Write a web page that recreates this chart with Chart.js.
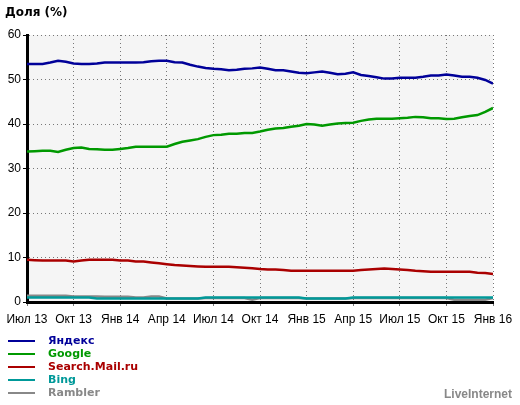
<!DOCTYPE html>
<html>
<head>
<meta charset="utf-8">
<script src="https://cdn.jsdelivr.net/npm/chart.js@4/dist/chart.umd.min.js"></script>
<style>
  html, body { margin: 0; padding: 0; background: #fff; }
  #wrap { width: 520px; height: 405px; }
</style>
</head>
<body>
<div id="wrap"><canvas id="grafico" width="520" height="405"></canvas></div>
<script>
// half-month steps from Jul 2013 to Jan 2016
const tickLabels = ['Июл 13', 'Окт 13', 'Янв 14', 'Апр 14', 'Июл 14', 'Окт 14',
                    'Янв 15', 'Апр 15', 'Июл 15', 'Окт 15', 'Янв 16'];

const seriesNames = ['Яндекс', 'Google', 'Search.Mail.ru', 'Bing', 'Rambler'];

const yandex = [53.5, 53.5, 53.5, 53.8, 54.2, 54.0, 53.6, 53.5, 53.5, 53.6,
                53.8, 53.8, 53.8, 53.8, 53.8, 53.9, 54.1, 54.2, 54.2, 53.9,
                53.8, 53.3, 52.9, 52.6, 52.4, 52.3, 52.1, 52.2, 52.4, 52.5,
                52.7, 52.4, 52.1, 52.1, 51.8, 51.5, 51.4, 51.6, 51.8, 51.5,
                51.2, 51.3, 51.6, 51.0, 50.8, 50.5, 50.2, 50.2, 50.4, 50.4,
                50.4, 50.6, 50.9, 50.9, 51.1, 50.9, 50.6, 50.6, 50.4, 49.9, 49.1];

const google = [33.8, 33.9, 34.0, 34.0, 33.7, 34.2, 34.6, 34.7, 34.4, 34.3,
                34.2, 34.2, 34.4, 34.6, 34.9, 34.9, 34.9, 34.9, 34.9, 35.5,
                36.0, 36.3, 36.6, 37.1, 37.5, 37.6, 37.8, 37.8, 38.0, 38.0,
                38.3, 38.7, 39.0, 39.1, 39.4, 39.6, 40.0, 39.9, 39.6, 39.9,
                40.1, 40.2, 40.3, 40.7, 41.0, 41.2, 41.2, 41.2, 41.3, 41.4,
                41.6, 41.5, 41.3, 41.3, 41.1, 41.2, 41.5, 41.8, 42.0, 42.7, 43.6];

const mail = [9.5, 9.4, 9.3, 9.3, 9.3, 9.3, 9.1, 9.3, 9.5, 9.5,
              9.5, 9.5, 9.3, 9.3, 9.1, 9.1, 8.9, 8.7, 8.5, 8.3,
              8.2, 8.1, 8.0, 7.9, 7.9, 7.9, 7.9, 7.8, 7.7, 7.6,
              7.4, 7.3, 7.3, 7.2, 7.0, 7.0, 7.0, 7.0, 7.0, 7.0,
              7.0, 7.0, 7.0, 7.2, 7.3, 7.4, 7.5, 7.4, 7.3, 7.2,
              7.0, 6.9, 6.8, 6.8, 6.8, 6.8, 6.8, 6.8, 6.6, 6.5, 6.3];

const bing = [1.0, 1.0, 1.0, 1.0, 1.0, 1.0, 1.0, 1.0, 1.0, 0.8,
              0.8, 0.8, 0.8, 0.8, 0.8, 0.8, 0.8, 0.8, 0.8, 0.8,
              0.8, 0.8, 0.8, 1.0, 1.0, 1.0, 1.0, 1.0, 1.0, 1.0,
              1.0, 1.0, 1.0, 1.0, 1.0, 1.0, 0.8, 0.8, 0.8, 0.8,
              0.8, 0.8, 1.0, 1.0, 1.0, 1.0, 1.0, 1.0, 1.0, 1.0,
              1.0, 1.0, 1.0, 1.0, 1.0, 1.0, 1.0, 1.0, 1.0, 1.0, 1.0];

const rambler = [1.4, 1.4, 1.4, 1.4, 1.4, 1.4, 1.25, 1.25, 1.25, 1.25,
                 1.2, 1.2, 1.2, 1.2, 1.0, 1.0, 1.25, 1.25, 0.8, 0.8,
                 0.8, 0.8, 0.8, 0.9, 0.9, 0.9, 0.9, 0.9, 0.9, 0.5,
                 0.9, 0.9, 0.9, 0.9, 0.9, 0.9, 0.8, 0.8, 0.8, 0.8,
                 0.8, 0.8, 0.9, 0.9, 0.9, 0.9, 0.9, 0.9, 0.9, 0.9,
                 0.9, 0.9, 0.9, 0.9, 0.9, 0.5, 0.5, 0.5, 0.5, 0.5, 0.9];

const colores = ['#000099', '#009900', '#aa0000', '#009999', '#888888'];
const valores = [yandex, google, mail, bing, rambler];

const datasets = valores.map(function (serie, k) {
    return {
        label: seriesNames[k],
        data: serie.map(function (v, i) { return { x: i, y: v }; }),
        borderColor: colores[k],
        backgroundColor: colores[k],
        borderWidth: 2.5,
        pointRadius: 0,
        tension: 0,
        fill: false
    };
});

const fondoYTextos = {
    id: 'fondoYTextos',
    beforeDraw: function (chart) {
        const a = chart.chartArea;
        const ctx = chart.ctx;
        ctx.save();
        ctx.fillStyle = '#f5f5f5';
        ctx.fillRect(a.left, a.top, a.right - a.left, a.bottom - a.top);
        ctx.restore();
    },
    afterDraw: function (chart) {
        const ctx = chart.ctx;
        ctx.save();
        ctx.textBaseline = 'middle';
        ctx.textAlign = 'left';
        ctx.fillStyle = '#000';
        ctx.font = 'bold 12px "DejaVu Sans"';
        ctx.fillText('Доля (%)', 5, 13);

        // legend, one entry per row
        const filas = [341, 354, 367, 380, 393];
        seriesNames.forEach(function (nombre, k) {
            const y = filas[k];
            ctx.strokeStyle = colores[k];
            ctx.lineWidth = 2;
            ctx.beginPath();
            ctx.moveTo(8, y);
            ctx.lineTo(35, y);
            ctx.stroke();
            ctx.fillStyle = colores[k];
            ctx.font = 'bold 11px "DejaVu Sans"';
            ctx.fillText(nombre, 48, y);
        });

        ctx.textAlign = 'right';
        ctx.fillStyle = '#888888';
        ctx.font = 'bold 12px "Liberation Sans"';
        ctx.fillText('LiveInternet', 512, 395);
        ctx.restore();
    }
};

const ctx = document.getElementById('grafico').getContext('2d');
const grafico = new Chart(ctx, {
    type: 'line',
    data: { datasets: datasets },
    plugins: [fondoYTextos],
    options: {
        responsive: false,
        animation: false,
        layout: { padding: { left: 0, top: 35, right: 27, bottom: 78 } },
        plugins: {
            legend: { display: false },
            tooltip: { enabled: false }
        },
        scales: {
            x: {
                type: 'linear',
                min: 0,
                max: 60,
                ticks: {
                    stepSize: 6,
                    autoSkip: false,
                    maxRotation: 0,
                    padding: 6,
                    color: '#000',
                    font: { family: '"Liberation Sans"', size: 12 },
                    callback: function (value) { return tickLabels[value / 6]; }
                },
                grid: {
                    color: '#777',
                    lineWidth: 1,
                    tickLength: 4
                },
                border: { color: '#000', width: 3, dash: [1, 3] },
                afterFit: function (scale) { scale.height = 25; }
            },
            y: {
                min: 0,
                max: 60,
                ticks: {
                    stepSize: 10,
                    padding: 2,
                    color: '#000',
                    font: { family: '"Liberation Sans"', size: 12 }
                },
                grid: {
                    color: '#777',
                    lineWidth: 1,
                    tickLength: 4,
                    tickColor: '#000'
                },
                border: { color: '#000', width: 3, dash: [1, 3] },
                afterFit: function (scale) { scale.width = 27; }
            }
        }
    }
});
</script>
</body>
</html>
